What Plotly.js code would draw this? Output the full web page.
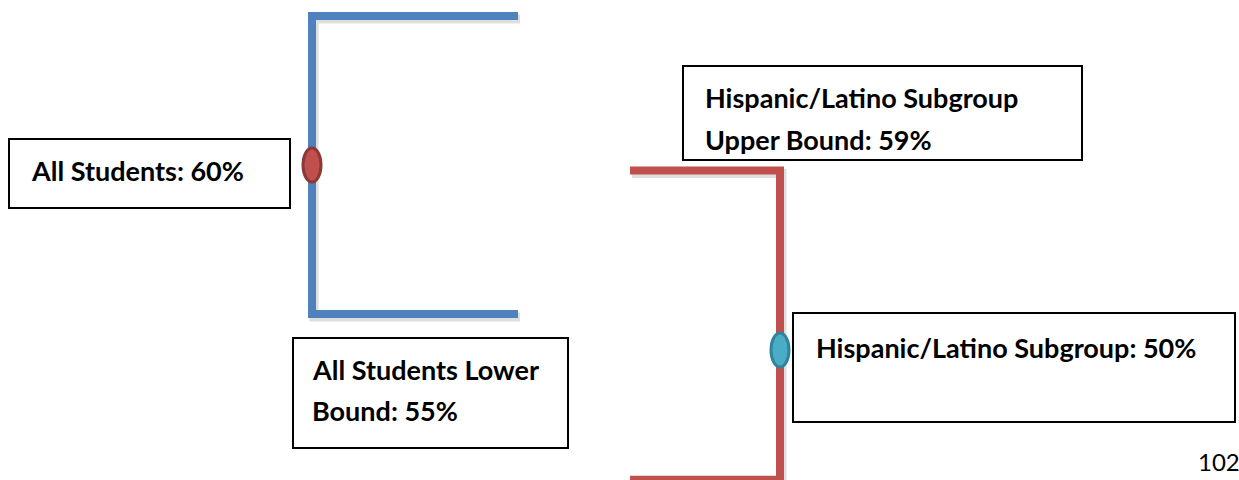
<!DOCTYPE html>
<html>
<head>
<meta charset="utf-8">
<script src="https://cdn.plot.ly/plotly-3.0.1.min.js"></script>
<style>html,body{margin:0;padding:0;background:#fff;}#chart{width:1239px;height:480px;}</style>
</head>
<body>
<div id="chart"></div>
<script>
// ---- data ----
const groups = ['All Students', 'Hispanic/Latino Subgroup'];
const pointValues = [60, 50];
const upperBounds = [65, 59];
const lowerBounds = [55, 43.5];
const lineColors = ['#4f81bd', '#c0504d'];
const markerFills = ['#c0504d', '#4bacc6'];
const markerLines = ['#8c3836', '#31849b'];
// text box labels (lines)
const labelAllPoint = ['All Students: 60%'];
const labelAllLower = ['All Students Lower', 'Bound: 55%'];
const labelHispUpper = ['Hispanic/Latino Subgroup', 'Upper Bound: 59%'];
const labelHispPoint = ['Hispanic/Latino Subgroup: 50%'];
const pageNumber = '102';

// ---- layout helpers ----
const W = 1239, H = 480;
const unitPx = 468;            // px per category step
const x0px = 312;              // px position of first category
const xRange = [-x0px / unitPx, (W - x0px) / unitPx];
const yRange1 = [49.430, 65.537];
const yRange2 = [43.482, 67.549];
const armLen = [206 / unitPx, -150 / unitPx];
const axes = ['y', 'y2'];
const ranges = [yRange1, yRange2];

const px = v => v / W;
const py = v => 1 - v / H;

const traces = [];
groups.forEach((g, i) => {
  const xs = [i + armLen[i], i, i, i + armLen[i]];
  const ys = [upperBounds[i], upperBounds[i], lowerBounds[i], lowerBounds[i]];
  const r = ranges[i];
  const dy = 3 * (r[1] - r[0]) / H;
  const dx = 2 / unitPx;
  traces.push({
    x: xs.map(v => v + dx), y: ys.map(v => v - dy), yaxis: axes[i],
    mode: 'lines', line: {color: 'rgba(0,0,0,0.13)', width: 9},
    hoverinfo: 'skip', showlegend: false
  });
  traces.push({
    x: xs, y: ys, yaxis: axes[i], name: g,
    mode: 'lines', line: {color: lineColors[i], width: 8},
    hoverinfo: 'skip', showlegend: false
  });
});

const shapes = [];
groups.forEach((g, i) => {
  shapes.push({
    type: 'circle', xref: 'x', yref: axes[i],
    xsizemode: 'pixel', ysizemode: 'pixel',
    xanchor: i, yanchor: pointValues[i],
    x0: -9, x1: 9, y0: -17, y1: 17,
    fillcolor: markerFills[i], line: {color: markerLines[i], width: 3}
  });
});

// text boxes (pixel rectangles)
const boxes = [
  [9, 139, 290, 208],
  [683, 66, 1082, 160],
  [293, 338, 568, 448],
  [793, 313, 1235, 422]
];
boxes.forEach(b => {
  shapes.push({type: 'rect', xref: 'paper', yref: 'paper',
    x0: px(b[0]), x1: px(b[2]), y0: py(b[3]), y1: py(b[1]),
    line: {color: '#000', width: 2}, fillcolor: 'rgba(0,0,0,0)', layer: 'above'});
});

const FONT = 'Lato, "Open Sans", sans-serif';
const FS = 27;
const annotations = [];
function addLines(lines, left, centers, bold, size) {
  lines.forEach((t, k) => {
    annotations.push({
      xref: 'paper', yref: 'paper', x: px(left), y: py(centers[k]),
      xanchor: 'left', yanchor: 'middle', showarrow: false,
      text: bold ? '<b>' + t + '</b>' : t,
      font: {family: FONT, size: size || FS, color: '#000'}
    });
  });
}
addLines(labelAllPoint, 29, [170], true);
addLines(labelHispUpper, 703, [98, 139], true);
addLines(labelAllLower, 310, [369, 410], true);
addLines(labelHispPoint, 814, [347], true);
addLines([pageNumber], 1196, [461], false, 24);

const layout = {
  width: W, height: H,
  margin: {l: 0, r: 0, t: 0, b: 0, pad: 0},
  paper_bgcolor: '#fff', plot_bgcolor: '#fff',
  showlegend: false,
  xaxis: {range: xRange, visible: false, fixedrange: true},
  yaxis: {range: yRange1, visible: false, fixedrange: true},
  yaxis2: {range: yRange2, visible: false, overlaying: 'y', fixedrange: true},
  shapes: shapes,
  annotations: annotations
};

Plotly.newPlot('chart', traces, layout, {displayModeBar: false, staticPlot: true});
</script>
</body>
</html>
